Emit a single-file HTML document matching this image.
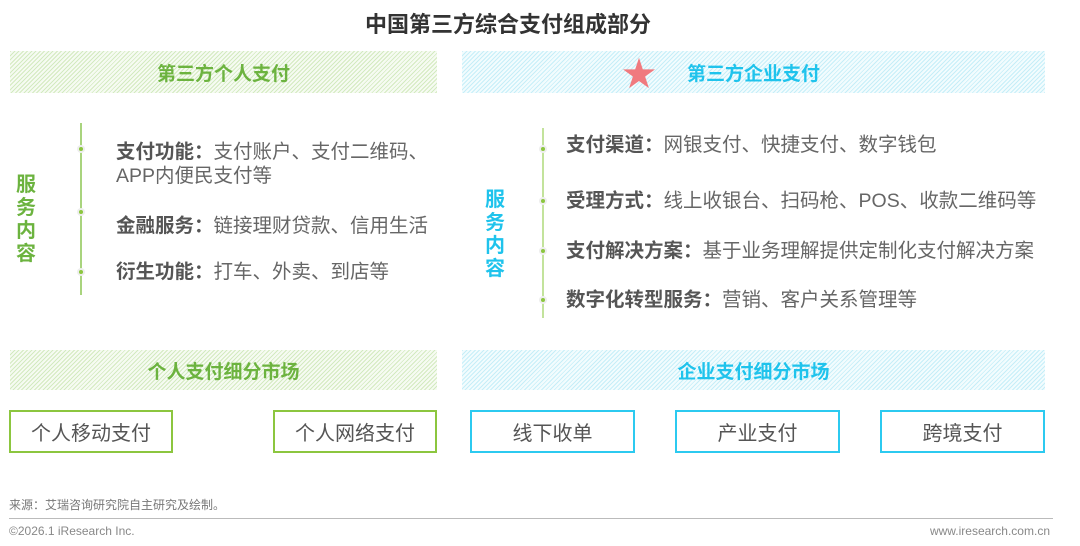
<!DOCTYPE html>
<html><head><meta charset="utf-8"><style>
*{margin:0;padding:0;box-sizing:border-box}
body{width:1080px;height:546px;background:#fff;position:relative;overflow:hidden;font-family:"Liberation Sans","Noto Sans CJK SC",sans-serif;color:#595959}
.a{position:absolute}
.hg{background:repeating-linear-gradient(135deg,#d3eac0 0 1px,#f6fbf2 1px 3px)}
.hb{background:repeating-linear-gradient(135deg,#c6eef8 0 1px,#f2fcfe 1px 3px)}
.bt{display:flex;align-items:center;justify-content:center;font-weight:bold;font-size:19px}
.box{border:2px solid;display:flex;align-items:center;justify-content:center;font-size:20px;color:#555}
.g{color:#6cb33f}.b{color:#1fc3ec}
.vl{width:2px}
.dot{width:8px;height:8px;border-radius:50%;background:#eee;}
.dot::after{content:"";position:absolute;left:2px;top:2px;width:4px;height:4px;border-radius:50%;background:#8cc63f}
.t{font-size:19.5px;color:#666;line-height:24px;white-space:nowrap}
.t b{color:#555}
.v{font-weight:bold;font-size:20px;line-height:23px;width:24px;text-align:center}
</style></head><body>
<div class="a" style="left:0;width:1016px;top:7px;text-align:center;font-weight:bold;font-size:22px;color:#333">中国第三方综合支付组成部分</div>

<div class="a hg bt g" style="left:10px;top:51px;width:427px;height:42px">第三方个人支付</div>
<div class="a hb bt b" style="left:462px;top:51px;width:583px;height:42px">第三方企业支付</div>
<div class="a" style="left:622px;top:55px;color:#f07a7f;font-size:34px;line-height:40px">★</div>

<div class="a v g" style="left:14px;top:174px">服<br>务<br>内<br>容</div>
<div class="a vl" style="left:80px;top:123px;height:172px;background:#a9d47e"></div>
<div class="a dot" style="left:77px;top:145px"></div>
<div class="a dot" style="left:77px;top:208px"></div>
<div class="a dot" style="left:77px;top:268px"></div>
<div class="a t" style="left:116px;top:140px"><b>支付功能：</b>支付账户、支付二维码、<br>APP内便民支付等</div>
<div class="a t" style="left:116px;top:214px"><b>金融服务：</b>链接理财贷款、信用生活</div>
<div class="a t" style="left:116px;top:260px"><b>衍生功能：</b>打车、外卖、到店等</div>

<div class="a v b" style="left:483px;top:189px">服<br>务<br>内<br>容</div>
<div class="a vl" style="left:542px;top:128px;height:190px;background:#c3e39c"></div>
<div class="a dot" style="left:539px;top:145px"></div>
<div class="a dot" style="left:539px;top:197px"></div>
<div class="a dot" style="left:539px;top:247px"></div>
<div class="a dot" style="left:539px;top:296px"></div>
<div class="a t" style="left:566px;top:133px"><b>支付渠道：</b>网银支付、快捷支付、数字钱包</div>
<div class="a t" style="left:566px;top:189px"><b>受理方式：</b>线上收银台、扫码枪、POS、收款二维码等</div>
<div class="a t" style="left:566px;top:239px"><b>支付解决方案：</b>基于业务理解提供定制化支付解决方案</div>
<div class="a t" style="left:566px;top:288px"><b>数字化转型服务：</b>营销、客户关系管理等</div>

<div class="a hg bt g" style="left:10px;top:350px;width:427px;height:40px">个人支付细分市场</div>
<div class="a hb bt b" style="left:462px;top:350px;width:583px;height:40px">企业支付细分市场</div>

<div class="a box" style="left:9px;top:410px;width:164px;height:43px;border-color:#8cc63f">个人移动支付</div>
<div class="a box" style="left:273px;top:410px;width:164px;height:43px;border-color:#8cc63f">个人网络支付</div>
<div class="a box" style="left:470px;top:410px;width:165px;height:43px;border-color:#2ccaf0">线下收单</div>
<div class="a box" style="left:675px;top:410px;width:165px;height:43px;border-color:#2ccaf0">产业支付</div>
<div class="a box" style="left:880px;top:410px;width:165px;height:43px;border-color:#2ccaf0">跨境支付</div>

<div class="a" style="left:9px;top:496px;font-size:12px;color:#777">来源：艾瑞咨询研究院自主研究及绘制。</div>
<div class="a" style="left:9px;top:518px;width:1044px;height:1px;background:#bbb"></div>
<div class="a" style="left:9px;top:524px;font-size:12px;color:#888">©2026.1 iResearch Inc.</div>
<div class="a" style="right:30px;top:524px;font-size:12px;color:#888">www.iresearch.com.cn</div>
</body></html>
